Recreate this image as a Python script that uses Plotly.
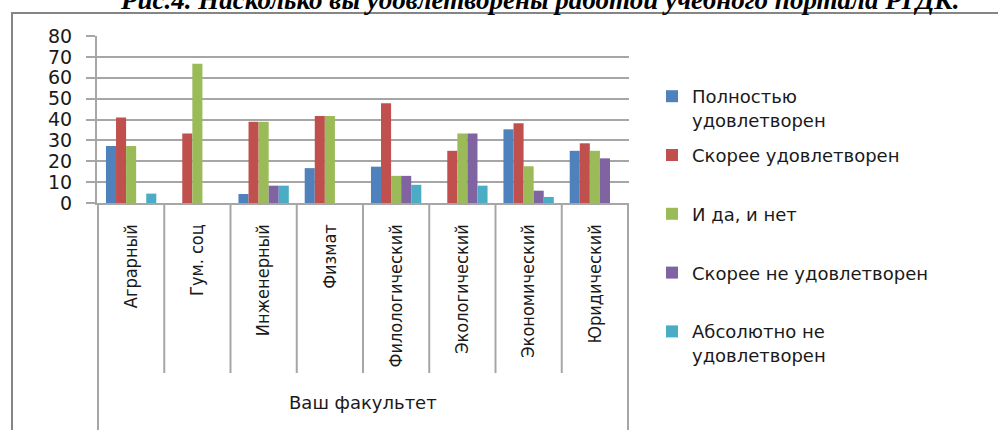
'''
Bar chart: satisfaction with the study portal, split by faculty.
'''

import plotly.graph_objects as go


FACULTIES = [
    'Аграрный', 'Гум. соц', 'Инженерный', 'Физмат',
    'Филологический', 'Экологический', 'Экономический', 'Юридический'
]
SERIES_NAMES = [
    'Полностью<br>удовлетворен',
    'Скорее удовлетворен<br>\u00a0',
    'И да, и нет<br>\u00a0',
    'Скорее не удовлетворен<br>\u00a0',
    'Абсолютно не<br>удовлетворен'
]
COLORS = ['#4F81BD', '#C0504D', '#9BBB59', '#8064A2', '#4BACC6']

fully_satisfied  = [27.3, 0.0, 4.3, 16.7, 17.4, 0.0, 35.3, 25.0]
rather_satisfied = [40.9, 33.3, 38.9, 41.7, 47.8, 25.0, 38.2, 28.6]
yes_and_no       = [27.3, 66.7, 38.9, 41.7, 13.0, 33.3, 17.6, 25.0]
rather_not       = [0.0, 0.0, 8.3, 0.0, 13.0, 33.3, 5.9, 21.4]
not_at_all       = [4.5, 0.0, 8.3, 0.0, 8.7, 8.3, 2.9, 0.0]

Y_TICKS = [0, 10, 20, 30, 40, 50, 60, 70, 80]

TITLE = 'Рис.4. Насколько вы удовлетворены работой учебного портала РГДК.'
X_TITLE = 'Ваш факультет'

# page geometry (pixels)
W, H = 998, 430
PLOT_L, PLOT_R, PLOT_T, PLOT_B = 97, 629, 36, 203

TEXT = '#1a1a1a'
GRID = '#a6a6a6'
FRAME = '#858585'
SANS = 'DejaVu Sans, Verdana, sans-serif'
NARROW = 'Liberation Sans Narrow, DejaVu Sans Condensed, sans-serif'


def px_x(px):
    return (px - PLOT_L) / (PLOT_R - PLOT_L)


def px_y(px):
    return (PLOT_B - px) / (PLOT_B - PLOT_T)


fig = go.Figure()
series = [fully_satisfied, rather_satisfied, yes_and_no, rather_not, not_at_all]
for i, (name, values) in enumerate(zip(SERIES_NAMES, series)):
    fig.add_trace(go.Bar(
        x = FACULTIES,
        y = values,
        name = name,
        legendgroup = f'g{i}',
        marker = dict(color=COLORS[i], line=dict(width=0))
    ))

shapes = []
# chart frame
shapes.append(dict(
    type = 'rect', xref = 'paper', yref = 'paper',
    x0 = px_x(12), x1 = px_x(W + 20), y0 = px_y(H + 20), y1 = px_y(13),
    line = dict(color=FRAME, width=2), layer = 'below'
))
# category dividers below the axis
n = len(FACULTIES)
for k in range(n + 1):
    outer = k in (0, n)
    shapes.append(dict(
        type = 'line', xref = 'x', yref = 'paper',
        x0 = k - 0.5, x1 = k - 0.5,
        y0 = 0, y1 = px_y(H + 10) if outer else px_y(373),
        line = dict(color=GRID, width=2)
    ))

fig.update_layout(
    width = W,
    height = H,
    margin = dict(l=PLOT_L, r=W - PLOT_R, t=PLOT_T, b=H - PLOT_B, autoexpand=False),
    paper_bgcolor = 'white',
    plot_bgcolor = 'white',
    barmode = 'group',
    bargap = 0.24,
    bargroupgap = 0,
    font = dict(family=SANS, color=TEXT),
    shapes = shapes,
    showlegend = True,
    legend = dict(
        x = px_x(652), y = px_y(78),
        xanchor = 'left', yanchor = 'top',
        font = dict(family=SANS, size=18, color=TEXT),
        valign = 'top',
        tracegroupgap = 9,
        itemwidth = 30,
        maxheight = 400,
        bgcolor = 'rgba(0,0,0,0)'
    ),
    annotations = [
        dict(
            text = f'<b><i>{TITLE}</i></b>',
            xref = 'paper', yref = 'paper',
            x = px_x(539), y = px_y(17),
            xanchor = 'center', yanchor = 'bottom',
            showarrow = False,
            font = dict(family='Liberation Serif, Times New Roman, serif', size=27, color='black')
        ),
        dict(
            text = X_TITLE,
            xref = 'paper', yref = 'paper',
            x = 0.5, y = px_y(403),
            xanchor = 'center', yanchor = 'middle',
            showarrow = False,
            font = dict(family=SANS, size=18, color=TEXT)
        )
    ]
)
fig.update_yaxes(
    range = [0, 80],
    tickvals = Y_TICKS,
    showgrid = True,
    gridcolor = GRID,
    gridwidth = 2,
    zeroline = False,
    showline = True,
    linecolor = GRID,
    linewidth = 2,
    ticks = 'outside',
    ticklen = 9,
    tickwidth = 2,
    tickcolor = GRID,
    ticklabelstandoff = 10,
    tickfont = dict(family=SANS, size=19, color=TEXT),
    fixedrange = True
)
fig.update_xaxes(
    type = 'category',
    showgrid = False,
    showline = True,
    linecolor = GRID,
    linewidth = 2,
    ticks = '',
    tickangle = -90,
    ticklabelstandoff = 12,
    tickfont = dict(family=NARROW, size=18, color=TEXT),
    fixedrange = True
)

# the page body has a default margin; drop it so the figure sits at the window corner
fig.write_html(
    'out.html',
    config = {'displayModeBar': False},
    post_script = "document.body.style.margin = '0';"
)
